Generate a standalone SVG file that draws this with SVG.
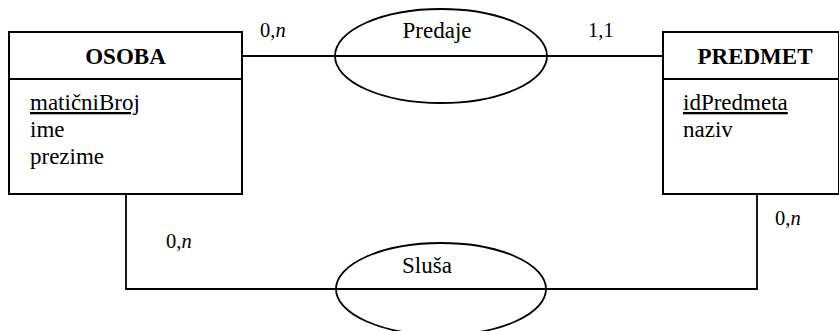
<svg xmlns="http://www.w3.org/2000/svg" width="839" height="331" viewBox="0 0 839 331">
<style>
.box{fill:#fff;stroke:#000;stroke-width:2}
.rel{fill:none;stroke:#000;stroke-width:1.8}
.ln{fill:none;stroke:#000;stroke-width:1.8}
text{fill:#000}
.title{font-size:23px;font-weight:bold;text-anchor:middle}
.attr{font-size:23px}
.lbl{font-size:23px;text-anchor:middle}
.card{font-size:20.5px}
.pk{text-decoration:underline}
</style>
<g id="connectors">
<line class="ln" x1="242" y1="56" x2="663" y2="56"/>
<polyline class="ln" points="126,194 126,289 757,289 757,194"/>
</g>
<g id="osoba">
<rect class="box" x="9" y="32" width="233" height="162"/>
<line class="ln" x1="9" y1="79" x2="242" y2="79" stroke-width="2"/>
<text class="title" x="125.5" y="64" font-family="Liberation Serif">OSOBA</text>
<text class="attr pk" x="30" y="110" font-family="Liberation Serif">matičniBroj</text>
<text class="attr" x="30" y="137" font-family="Liberation Serif">ime</text>
<text class="attr" x="30" y="164" font-family="Liberation Serif">prezime</text>
</g>
<g id="predmet">
<rect class="box" x="663" y="32" width="176" height="162"/>
<line class="ln" x1="663" y1="79" x2="839" y2="79" stroke-width="2"/>
<text class="title" x="755" y="64" font-family="Liberation Serif">PREDMET</text>
<text class="attr pk" x="683" y="110" font-family="Liberation Serif">idPredmeta</text>
<text class="attr" x="683" y="137" font-family="Liberation Serif">naziv</text>
</g>
<g id="predaje">
<ellipse class="rel" cx="441" cy="56" rx="106" ry="47"/>
<text class="lbl" x="437" y="38" font-family="Liberation Serif">Predaje</text>
</g>
<g id="slusa">
<ellipse class="rel" cx="441" cy="289" rx="105" ry="46"/>
<text class="lbl" x="427" y="273" font-family="Liberation Serif">Sluša</text>
</g>
<g id="cardinalities">
<text class="card" x="260" y="37" font-family="Liberation Serif">0,<tspan font-style="italic">n</tspan></text>
<text class="card" x="588" y="37" font-family="Liberation Serif">1,1</text>
<text class="card" x="166" y="248" font-family="Liberation Serif">0,<tspan font-style="italic">n</tspan></text>
<text class="card" x="775" y="225" font-family="Liberation Serif">0,<tspan font-style="italic">n</tspan></text>
</g>
</svg>
